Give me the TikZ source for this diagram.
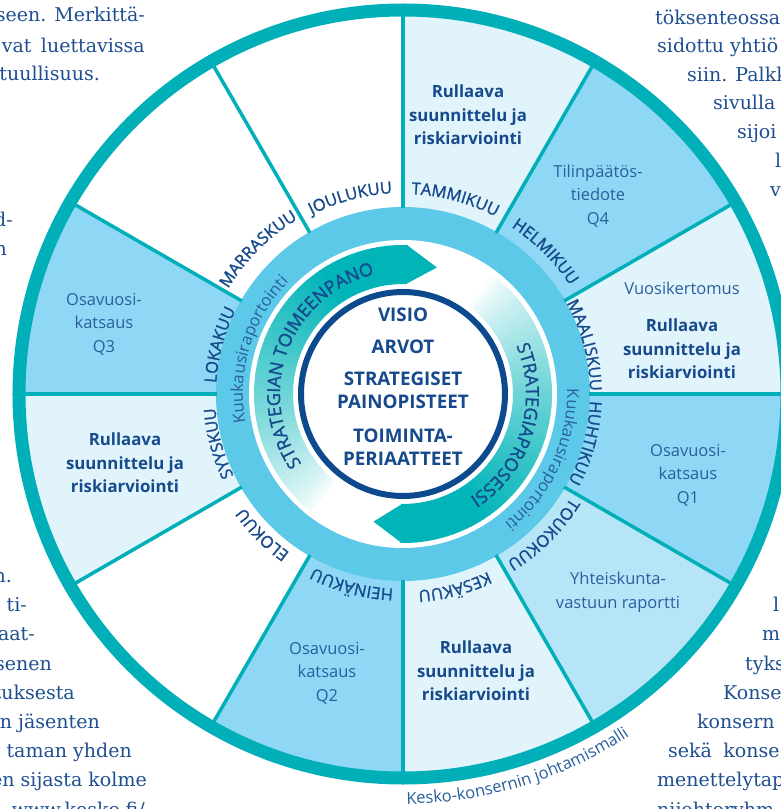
\documentclass[tikz,border=0pt]{standalone}
\usepackage{fontspec}
\setmainfont{DejaVu Serif}
\newfontfamily\osans{Open Sans}
\newfontfamily\osansmed[FakeBold=1.4]{Open Sans}
\usetikzlibrary{decorations.text}
\definecolor{teal1}{HTML}{00AFB8}
\definecolor{arrowteal}{HTML}{00B4B8}
\definecolor{ringblue}{HTML}{5DC9E9}
\definecolor{vlight}{HTML}{E1F4FB}
\definecolor{medblue}{HTML}{8FD8F5}
\definecolor{lblue}{HTML}{B6E5F8}
\definecolor{dkblue}{HTML}{164A8C}
\definecolor{txtblue}{HTML}{2A5F9E}
\definecolor{bodyblue}{HTML}{1F4F91}
\definecolor{dkcirc}{HTML}{0D4A8D}
\newcommand\mlabfont{\color{dkblue}\osansmed\fontsize{16.5}{17}\selectfont}
\newcommand\arrfont{\color{dkblue}\osansmed\fontsize{18}{19}\selectfont}
\newcommand\kkfont{\color{txtblue}\osans\fontsize{16.5}{17}\selectfont}
% #1 centre angle, #2 radius, #3 half span, #4 format, #5 text (clockwise, tops outward)
\newcommand\ArcText[5]{\path[decorate,decoration={text along path,text={|#4|#5},text align=center}] (#1+#3:#2) arc[start angle=#1+#3,end angle=#1-#3,radius=#2];}
\tikzset{
  bodytxt/.style={font=\fontsize{19}{19}\selectfont,text=bodyblue,inner sep=0},
  boldtxt/.style={font=\osans\bfseries\fontsize{16.8}{23.5}\selectfont,text=dkblue,align=center,inner sep=0},
  regtxt/.style={font=\osans\fontsize{16.5}{23.5}\selectfont,text=txtblue,align=center,inner sep=0},
  coretxt/.style={font=\osans\bfseries\fontsize{18.8}{23}\selectfont,text=dkblue,align=center,inner sep=0}
}
\begin{document}
\begin{tikzpicture}[x=1pt,y=1pt]
\useasboundingbox (-403,-415) rectangle (378,394);
\fill[white] (-403,-415) rectangle (378,394);
\begin{scope}
\clip (-403,-415) rectangle (378,394);
% sectors
\foreach \a/\c in {60/vlight,30/medblue,0/vlight,-30/medblue,-60/lblue,-90/vlight,-120/medblue,-150/white,-180/vlight,150/medblue,120/white,90/white}{
  \fill[\c] (0,0) -- (\a:380) arc[start angle=\a,end angle=\a+30,radius=380] -- cycle;}
\fill[ringblue] (0,0) circle[radius=187];
\fill[white] (0,0) circle[radius=154];
\foreach \a in {0,30,...,330} \draw[teal1,line width=3.5] (\a:186) -- (\a:386);
\draw[teal1,line width=13] (0,0) circle[radius=384];
% arrow 1 (strategian toimeenpano)
\foreach \i in {0,...,72}{
  \pgfmathsetmacro\aa{88+2*\i}
  \pgfmathsetmacro\bb{\aa+2.4}
  \pgfmathsetmacro\ff{100*(max(0,min(1,(232-\aa)/112)))^0.75}
  \fill[arrowteal!\ff!white] (\aa:110) arc[start angle=\aa,end angle=\bb,radius=110] -- (\bb:149) arc[start angle=\bb,end angle=\aa,radius=149] -- cycle;}
\fill[arrowteal] (88.5:110) -- (88.5:149) -- (75:131) -- cycle;
% arrow 2 (strategiaprosessi)
\foreach \i in {0,...,72}{
  \pgfmathsetmacro\aa{-91+2*\i}
  \pgfmathsetmacro\bb{\aa+2.4}
  \pgfmathsetmacro\ff{100*(max(0,min(1,(52-\aa)/112)))^0.75}
  \fill[arrowteal!\ff!white] (\aa:110) arc[start angle=\aa,end angle=\bb,radius=110] -- (\bb:149) arc[start angle=\bb,end angle=\aa,radius=149] -- cycle;}
\fill[arrowteal] (-90.5:110) -- (-90.5:149) -- (-103:131) -- cycle;
\draw[dkcirc,line width=6] (0,0) circle[radius=102];
% arc texts
\ArcText{159}{123}{70}{\arrfont}{STRATEGIAN TOIMEENPANO}
\ArcText{-17}{123}{70}{\arrfont}{STRATEGIAPROSESSI}
\ArcText{163}{160}{60}{\kkfont}{Kuukausiraportointi}
\ArcText{-25}{164}{60}{\kkfont}{Kuukausiraportointi}
\ArcText{75}{200}{50}{\mlabfont}{TAMMIKUU}
\ArcText{45}{199}{50}{\mlabfont}{HELMIKUU}
\ArcText{15}{187}{50}{\mlabfont}{MAALISKUU}
\ArcText{-15}{187}{50}{\mlabfont}{HUHTIKUU}
\ArcText{-45}{197}{50}{\mlabfont}{TOUKOKUU}
\ArcText{-75}{197}{50}{\mlabfont}{KESÄKUU}
\ArcText{-105}{195}{50}{\mlabfont}{HEINÄKUU}
\ArcText{-135}{195}{50}{\mlabfont}{ELOKUU}
\ArcText{-165}{188}{50}{\mlabfont}{SYYSKUU}
\ArcText{165}{187}{50}{\mlabfont}{LOKAKUU}
\ArcText{135}{204}{50}{\mlabfont}{MARRASKUU}
\ArcText{105}{201}{50}{\mlabfont}{JOULUKUU}
\path[decorate,decoration={text along path,text={|\color{txtblue}\osans\fontsize{16.5}{17}\selectfont|Kesko-konsernin johtamismalli},text align=center}] (-113:410) arc[start angle=-113,end angle=-33,radius=410];
% centre
\node[coretxt] (visio) at (0,79) {VISIO};
\node[coretxt] (arvot) at (0,47) {ARVOT};
\node[coretxt] (strat) at (0,4) {STRATEGISET\\PAINOPISTEET};
\node[coretxt] (toim) at (0,-53.5) {TOIMINTA-\\PERIAATTEET};
% sector contents
\node[boldtxt] (jan) at (65,279) {Rullaava\\suunnittelu ja\\riskiarviointi};
\node[regtxt] (feb) at (195,198) {Tilinpäätös-\\tiedote\\Q4};
\node[regtxt] (mar1) at (279,106) {Vuosikertomus};
\node[boldtxt] (mar2) at (279,45) {Rullaava\\suunnittelu ja\\riskiarviointi};
\node[regtxt] (apr) at (285,-81) {Osavuosi-\\katsaus\\Q1};
\node[regtxt] (may) at (215,-198) {Yhteiskunta-\\vastuun raportti};
\node[boldtxt] (jun) at (73,-277) {Rullaava\\suunnittelu ja\\riskiarviointi};
\node[regtxt] (jul) at (-76,-279) {Osavuosi-\\katsaus\\Q2};
\node[boldtxt] (sep) at (-278,-69) {Rullaava\\suunnittelu ja\\riskiarviointi};
\node[regtxt] (oct) at (-299,70) {Osavuosi-\\katsaus\\Q3};
% page text around the wheel
\node[bodytxt,anchor=base east] (tl1) at (-258,372) {seen. Merkittä-};
\node[bodytxt,anchor=base east] (tl2) at (-258,341) {vat\hspace{0.5em}luettavissa};
\node[bodytxt,anchor=base east] (tl3) at (-303,313) {tuullisuus.};
\node[bodytxt,anchor=base east] (ml1) at (-390,167) {d-};
\node[bodytxt,anchor=base east] (ml2) at (-396,138) {n};
\node[bodytxt,anchor=base east] (bl1) at (-391,-188) {n.};
\node[bodytxt,anchor=base east] (bl2) at (-376,-217) {ti-};
\node[bodytxt,anchor=base east] (bl3) at (-368,-246) {aat-};
\node[bodytxt,anchor=base east] (bl4) at (-351,-276) {senen};
\node[bodytxt,anchor=base east] (bl5) at (-328,-305) {tuksesta};
\node[bodytxt,anchor=base east] (bl6) at (-303,-334) {n jäsenten};
\node[bodytxt,anchor=base east] (bl7) at (-271,-363) {taman yhden};
\node[bodytxt,anchor=base east] (bl8) at (-256,-392) {en sijasta kolme};
\node[bodytxt,anchor=base east] (bl9) at (-258,-422) {www.kesko.fi/};
\node[bodytxt,anchor=base west] (tr1) at (252,369) {töksenteossa};
\node[bodytxt,anchor=base west] (tr2) at (254,341) {sidottu yhtiö};
\node[bodytxt,anchor=base west] (tr3) at (284,312) {siin. Palkk};
\node[bodytxt,anchor=base west] (tr4) at (310,284) {sivulla};
\node[bodytxt,anchor=base west] (tr5) at (334,255) {sijoi};
\node[bodytxt,anchor=base west] (tr6) at (372,226) {l};
\node[bodytxt,anchor=base west] (tr7) at (367,197) {v};
\node[bodytxt,anchor=base west] (br1) at (370,-217) {l};
\node[bodytxt,anchor=base west] (br2) at (359,-246) {m};
\node[bodytxt,anchor=base west] (br3) at (342,-276) {tyks};
\node[bodytxt,anchor=base west] (br4) at (320,-305) {Konse};
\node[bodytxt,anchor=base west] (br5) at (294,-334) {konsern};
\node[bodytxt,anchor=base west] (br6) at (265,-363) {sekä\hspace{0.6em}konse};
\node[bodytxt,anchor=base west] (br7) at (254,-392) {menettelytap};
\node[bodytxt,anchor=base west] (br8) at (254,-422) {nijohtoryhm};
\end{scope}
\end{tikzpicture}
\end{document}
